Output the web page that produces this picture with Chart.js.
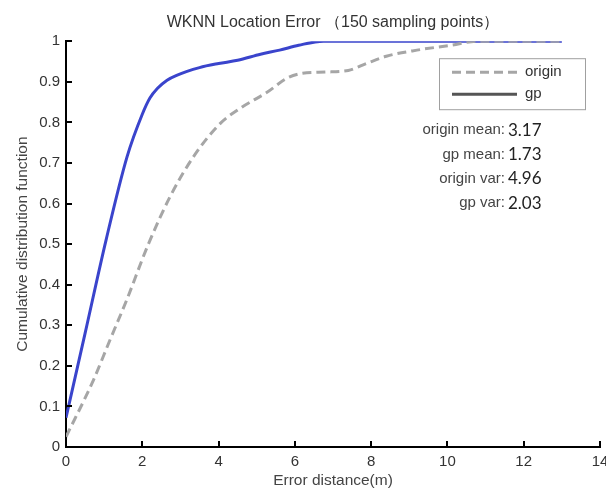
<!DOCTYPE html>
<html>
<head>
<meta charset="utf-8">
<script src="https://cdn.jsdelivr.net/npm/chart.js@4.4.0/dist/chart.umd.min.js"></script>
<style>
  html, body { margin: 0; padding: 0; background: #fff; }
  #wrap { width: 606px; height: 491px; }
</style>
</head>
<body>
<div id="wrap"><canvas id="cdfChart"></canvas></div>
<script>
// === data ===
const gpX = [0, 0.5, 1.05, 1.6, 2.0, 2.2, 2.4, 2.65, 2.9, 3.5, 4.0, 4.5, 5.1, 5.6, 6.1, 6.75, 13];
const gpY = [0.072, 0.28, 0.51, 0.715, 0.82, 0.86, 0.884, 0.904, 0.916, 0.935, 0.945, 0.953, 0.968, 0.978, 0.99, 1.0, 1.0];

const originX = [0, 0.72, 1.15, 1.59, 2.16, 2.73, 3.34, 4.04, 4.57, 5.27, 5.8, 6.2, 6.8, 7.4, 7.9, 8.4, 9.2, 10.1, 10.8, 13];
const originY = [0.025, 0.165, 0.263, 0.362, 0.5, 0.617, 0.715, 0.797, 0.835, 0.874, 0.909, 0.921, 0.924, 0.928, 0.946, 0.963, 0.978, 0.99, 1.0, 1.0];

const seriesNames = ["origin", "gp"];
const statLabels = ["origin mean:", "gp mean:", "origin var:", "gp var:"];
const statValues = ["3.17", "1.73", "4.96", "2.03"];

const xTicks = [0, 2, 4, 6, 8, 10, 12, 14];
const yTicks = [0, 0.1, 0.2, 0.3, 0.4, 0.5, 0.6, 0.7, 0.8, 0.9, 1];

const FONT = "'Liberation Sans', Arial, sans-serif";
const toPoints = (xs, ys) => xs.map((x, i) => ({ x: x, y: ys[i] }));

// ticks point inward like the matlab figure
const inwardTicks = {
  id: "inwardTicks",
  afterDraw(chart) {
    const { ctx, chartArea, scales } = chart;
    ctx.save();
    ctx.strokeStyle = "#000";
    ctx.lineWidth = 2;
    xTicks.forEach(v => {
      const px = Math.round(scales.x.getPixelForValue(v));
      ctx.beginPath();
      ctx.moveTo(px, chartArea.bottom);
      ctx.lineTo(px, chartArea.bottom - 6);
      ctx.stroke();
    });
    yTicks.forEach(v => {
      const py = Math.round(scales.y.getPixelForValue(v));
      ctx.beginPath();
      ctx.moveTo(chartArea.left, py);
      ctx.lineTo(chartArea.left + 6, py);
      ctx.stroke();
    });
    ctx.restore();
  }
};

// boxed legend + stats text in the upper right
const legendAndStats = {
  id: "legendAndStats",
  afterDraw(chart) {
    const { ctx, chartArea } = chart;
    const bx = chartArea.right - 161, by = chartArea.top + 17, bw = 146, bh = 51;
    ctx.save();
    ctx.fillStyle = "#fff";
    ctx.fillRect(bx, by, bw, bh);
    ctx.strokeStyle = "#a0a0a0";
    ctx.lineWidth = 1;
    ctx.strokeRect(bx + 0.5, by + 0.5, bw, bh);

    const rows = [
      { name: seriesNames[0], color: "#a6a6a6", dash: [9, 5], y: by + 14 },
      { name: seriesNames[1], color: "#555555", dash: [], y: by + 36 }
    ];
    rows.forEach(r => {
      ctx.beginPath();
      ctx.setLineDash(r.dash);
      ctx.strokeStyle = r.color;
      ctx.lineWidth = 3;
      ctx.moveTo(bx + 13, r.y);
      ctx.lineTo(bx + 78, r.y);
      ctx.stroke();
      ctx.setLineDash([]);
      ctx.fillStyle = "#333";
      ctx.font = "15px " + FONT;
      ctx.textAlign = "left";
      ctx.textBaseline = "middle";
      ctx.fillText(r.name, bx + 86, r.y);
    });

    const sx = chartArea.right - 95;
    statLabels.forEach((lab, i) => {
      const y = chartArea.top + 89 + i * 24.3;
      ctx.textBaseline = "middle";
      ctx.textAlign = "right";
      ctx.fillStyle = "#444";
      ctx.font = "15px " + FONT;
      ctx.fillText(lab, sx, y);
      ctx.textAlign = "left";
      ctx.fillStyle = "#222";
      ctx.font = "17px Lato, sans-serif";
      ctx.fillText(statValues[i], sx + 3, y);
    });
    ctx.restore();
  }
};

const ctx = document.getElementById("cdfChart").getContext("2d");
const cdfChart = new Chart(ctx, {
  type: "line",
  data: {
    datasets: [
      {
        label: seriesNames[0],
        data: toPoints(originX, originY),
        borderColor: "#a6a6a6",
        borderWidth: 3,
        borderDash: [9, 5],
        pointRadius: 0,
        fill: false,
        cubicInterpolationMode: "monotone"
      },
      {
        label: seriesNames[1],
        data: toPoints(gpX, gpY),
        borderColor: "#3a44cc",
        borderWidth: 3,
        pointRadius: 0,
        fill: false,
        cubicInterpolationMode: "monotone"
      }
    ]
  },
  options: {
    responsive: true,
    maintainAspectRatio: false,
    animation: false,
    devicePixelRatio: 1,
    layout: { padding: { left: 0, right: 6, top: 0, bottom: 0 } },
    plugins: {
      legend: { display: false },
      tooltip: { enabled: false },
      title: {
        display: true,
        fullSize: false,
        text: "WKNN Location Error （150 sampling points）",
        color: "#333",
        font: { family: FONT, size: 16, weight: "normal" },
        padding: { top: 13, bottom: 9 }
      }
    },
    scales: {
      x: {
        type: "linear",
        min: 0,
        max: 14,
        afterBuildTicks: s => { s.ticks = xTicks.map(v => ({ value: v })); },
        afterFit: s => { s.height = 44; s.paddingLeft = 0; s.paddingRight = 0; },
        grid: { display: false, drawTicks: false },
        border: { display: true, color: "#000", width: 2 },
        ticks: { color: "#333", padding: 6, font: { family: FONT, size: 15 } },
        title: {
          display: true,
          text: "Error distance(m)",
          color: "#444",
          font: { family: FONT, size: 15.5 },
          padding: { top: 0, bottom: 1 }
        }
      },
      y: {
        min: 0,
        max: 1,
        afterBuildTicks: s => { s.ticks = yTicks.map(v => ({ value: v })); },
        afterFit: s => { s.width = 66; s.paddingTop = 0; s.paddingBottom = 0; },
        grid: { display: false, drawTicks: false },
        border: { display: true, color: "#000", width: 2 },
        ticks: {
          color: "#333",
          padding: 6,
          font: { family: FONT, size: 15 },
          callback: v => String(+v.toFixed(1))
        },
        title: {
          display: true,
          text: "Cumulative distribution function",
          color: "#444",
          font: { family: FONT, size: 15.5 },
          padding: { top: 13, bottom: 0 }
        }
      }
    }
  },
  plugins: [inwardTicks, legendAndStats]
});
</script>
</body>
</html>
